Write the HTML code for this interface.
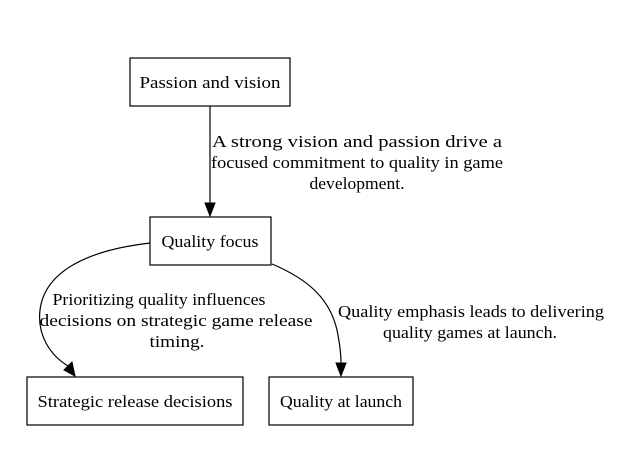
<!DOCTYPE html>
<html><head><meta charset="utf-8"><style>
html,body{margin:0;padding:0;background:#fff;}
svg{display:block;}
text{font-family:"Liberation Serif",serif;font-size:17px;fill:#000;}
</style></head><body>
<svg width="635" height="451" viewBox="0 0 635 451" xmlns="http://www.w3.org/2000/svg">
<rect width="635" height="451" fill="#fff"/>
<g fill="none" stroke="#000" stroke-width="1.2">
<rect x="130" y="58" width="160" height="48"/>
<rect x="150" y="217" width="121" height="48"/>
<rect x="27" y="377" width="216" height="48"/>
<rect x="269" y="377" width="144" height="48"/>
<path d="M210,106 L210,203"/>
<path d="M150,243 C90,250 45,270 40,310 C37,335 50,355 68,366"/>
<path d="M272,264 C310,280 330,300 337,330 C340,345 341,355 341,363"/>
</g>
<g fill="#000" stroke="#000">
<polygon points="205,203 215,203 210,216"/>
<polygon points="64,370 72,362 75,376"/>
<polygon points="336,363 346,363 341,376"/>
</g>
<g text-anchor="middle">
<text x="210" y="88" textLength="141" lengthAdjust="spacingAndGlyphs">Passion and vision</text>
<text x="210" y="247" textLength="97" lengthAdjust="spacingAndGlyphs">Quality focus</text>
<text x="135" y="407" textLength="195" lengthAdjust="spacingAndGlyphs">Strategic release decisions</text>
<text x="341" y="407" textLength="122" lengthAdjust="spacingAndGlyphs">Quality at launch</text>
<text x="357" y="147" textLength="290" lengthAdjust="spacingAndGlyphs">A strong vision and passion drive a</text>
<text x="357" y="168" textLength="292" lengthAdjust="spacingAndGlyphs">focused commitment to quality in game</text>
<text x="357" y="189" textLength="95" lengthAdjust="spacingAndGlyphs">development.</text>
<text x="159" y="305" textLength="213" lengthAdjust="spacingAndGlyphs">Prioritizing quality influences</text>
<text x="176" y="326" textLength="273" lengthAdjust="spacingAndGlyphs">decisions on strategic game release</text>
<text x="177" y="347" textLength="55" lengthAdjust="spacingAndGlyphs">timing.</text>
<text x="471" y="317" textLength="266" lengthAdjust="spacingAndGlyphs">Quality emphasis leads to delivering</text>
<text x="470" y="338" textLength="174" lengthAdjust="spacingAndGlyphs">quality games at launch.</text>
</g>
</svg>
</body></html>
